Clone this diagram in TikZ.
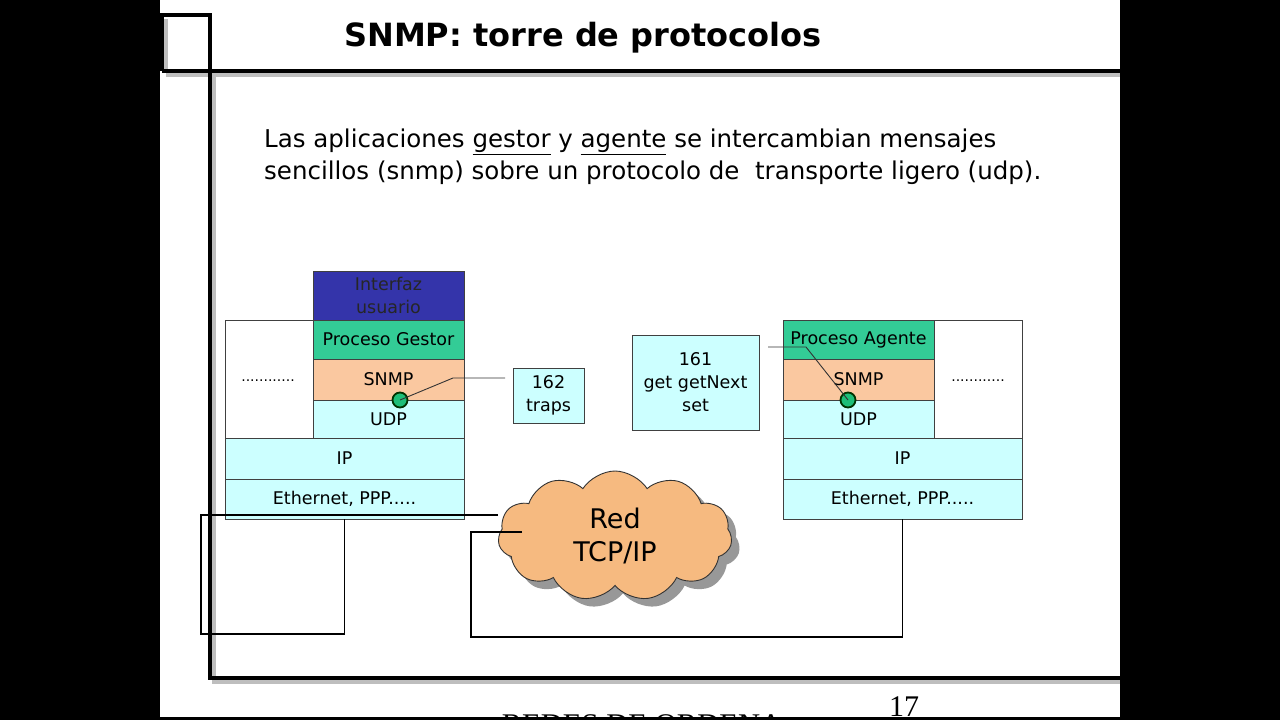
\documentclass[tikz,border=0pt]{standalone}
\usepackage{fontspec}
\setmainfont{DejaVu Sans}
\newfontfamily\serifft{Liberation Serif}
\usetikzlibrary{shapes.symbols}
\definecolor{uiblue}{RGB}{52,52,170}
\definecolor{procgreen}{RGB}{51,204,150}
\definecolor{snmppeach}{RGB}{250,200,160}
\definecolor{cloudpeach}{RGB}{246,186,128}
\definecolor{lcyan}{RGB}{204,255,255}
\definecolor{shadowgray}{RGB}{190,190,190}
\definecolor{dotgreen}{RGB}{30,190,120}
\tikzset{
  layer/.style={draw=black!75, line width=0.9pt, anchor=north west, inner sep=0pt, outer sep=0pt,
    font=\fontsize{17.5}{23}\selectfont, align=center},
  frame/.style={line width=4.5pt, black},
  frameshadow/.style={line width=4.5pt, shadowgray},
  conn/.style={line width=1.8pt, black},
  thin/.style={line width=0.9pt, black!80},
  port/.style={circle, fill=dotgreen, draw=black!80!green, line width=1.8pt, minimum size=15pt, inner sep=0pt},
}
\begin{document}
\begin{tikzpicture}[x=1pt,y=-1pt]
\useasboundingbox (0,0) rectangle (1280,720);
\fill[black] (0,0) rectangle (1280,720);
\fill[white] (160,0) rectangle (1120,720);
% footer (clipped at the page edge, as in the reference)
\begin{scope}
\clip (160,0) rectangle (1120,717);
\node[font=\serifft\fontsize{30}{30}\selectfont, anchor=base, xscale=1.02] (footer) at (642,734) {REDES DE ORDENA};
\end{scope}
\node[font=\serifft\fontsize{30}{30}\selectfont, anchor=base] (pagenum) at (904,716) {17};
\fill[black] (160,717) rectangle (1120,720);
% frame shadows
\draw[frameshadow] (166,75) -- (1120,75);
\draw[frameshadow] (214,75) -- (214,682) -- (1120,682);
\draw[frameshadow] (166,19) -- (166,71);
% frame
\draw[frame] (162,71) -- (162,15) -- (210,15) -- (210,678) -- (1120,678);
\draw[frame] (162,71) -- (1120,71);
% title
\node[font=\bfseries\fontsize{32}{36}\selectfont] (title) at (583,38) {SNMP: torre de protocolos};
% body text
\node[anchor=north west, align=left, font=\fontsize{24.5}{32}\selectfont, inner sep=0pt] (body) at (264,129)
 {Las aplicaciones \underline{gestor} y \underline{agente} se intercambian mensajes\\
  sencillos (snmp) sobre un protocolo de\ \ transporte ligero (udp).};
% left stack
\node[layer, fill=white, minimum width=239pt, minimum height=118pt] (lout) at (225,320) {};
\node[layer, fill=uiblue, minimum width=151pt, minimum height=49pt, text=black!85] (lui) at (313,271) {Interfaz\\usuario};
\node[layer, fill=procgreen, minimum width=151pt, minimum height=39pt] (lpg) at (313,320) {Proceso Gestor};
\node[layer, fill=snmppeach, minimum width=151pt, minimum height=41pt] (lsnmp) at (313,359) {SNMP};
\node[layer, fill=lcyan, minimum width=151pt, minimum height=38pt] (ludp) at (313,400) {UDP};
\node[layer, fill=lcyan, minimum width=239pt, minimum height=41pt] (lip) at (225,438) {IP};
\node[layer, fill=lcyan, minimum width=239pt, minimum height=40pt] (leth) at (225,479) {Ethernet, PPP.....};
\node[font=\fontsize{14}{16}\selectfont] (ldots) at (268,381) {............};
% right stack
\node[layer, fill=white, minimum width=239pt, minimum height=118pt] (rout) at (783,320) {};
\node[layer, fill=procgreen, minimum width=151pt, minimum height=39pt] (rpa) at (783,320) {Proceso Agente};
\node[layer, fill=snmppeach, minimum width=151pt, minimum height=41pt] (rsnmp) at (783,359) {SNMP};
\node[layer, fill=lcyan, minimum width=151pt, minimum height=38pt] (rudp) at (783,400) {UDP};
\node[layer, fill=lcyan, minimum width=239pt, minimum height=41pt] (rip) at (783,438) {IP};
\node[layer, fill=lcyan, minimum width=239pt, minimum height=40pt] (reth) at (783,479) {Ethernet, PPP.....};
\node[font=\fontsize{14}{16}\selectfont] (rdots) at (978,381) {............};
% port boxes
\node[layer, fill=lcyan, minimum width=71pt, minimum height=55pt] (traps) at (513,368) {162\\traps};
\node[layer, fill=lcyan, minimum width=127pt, minimum height=95pt] (gets) at (632,335) {161\\get getNext\\set};
% ports
\node[port] (lport) at (400,400) {};
\node[port] (rport) at (848,400) {};
\coordinate (lk1) at (453,378);
\coordinate (lk2) at (505,378);
\coordinate (rk1) at (768,347);
\coordinate (rk2) at (806,347);
\draw[thin] (lport.center) -- (lk1) -- (lk2);
\draw[thin] (rk1) -- (rk2) -- (rport.center);
% cloud
\node[cloud, cloud puffs=11, cloud puff arc=115, aspect=1.7, fill=shadowgray!80!black, draw=none,
  minimum width=234pt, minimum height=130pt] (cloudsh) at (623,544) {};
\node[cloud, cloud puffs=11, cloud puff arc=115, aspect=1.7, fill=cloudpeach, draw=black!80, line width=0.9pt,
  minimum width=234pt, minimum height=130pt, align=center, font=\fontsize{27}{33}\selectfont] (cloud) at (615,536) {Red\\TCP/IP};
% network connectors
\coordinate (na) at (498,515);
\coordinate (nb) at (522,532);
\draw[conn] (na) -- (201,515) -- (201,634) -| (leth.south);
\draw[conn] (nb) -- (471,532) -- (471,637) -| (reth.south);
\end{tikzpicture}
\end{document}
